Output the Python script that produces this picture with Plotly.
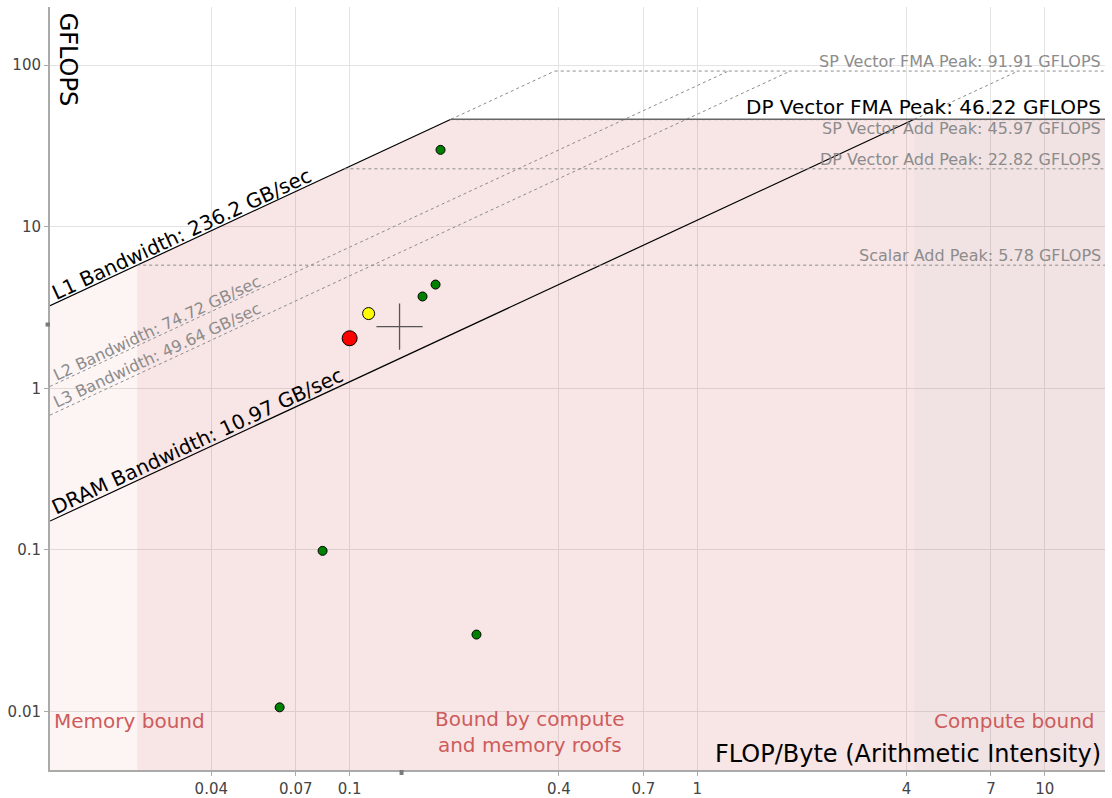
import plotly.graph_objects as go
import numpy as np

# ---- data ----
x_range_vals = [0.01374, 14.9]          # visible arithmetic-intensity span
y_range_vals = [0.00434, 229.0]          # visible GFLOPS span

bw_names = ["L1", "L2", "L3", "DRAM"]
bw_values = [236.2, 74.72, 49.64, 10.97]   # GB/sec

peak_names = ["SP Vector FMA", "DP Vector FMA", "SP Vector Add", "DP Vector Add", "Scalar Add"]
peak_values = [91.91, 46.22, 45.97, 22.82, 5.78]  # GFLOPS

green_x = [0.1826, 0.1767, 0.1621, 0.0836, 0.2317, 0.0629]
green_y = [29.9, 4.385, 3.70, 0.0986, 0.0299, 0.0106]
yellow_x = [0.1134]
yellow_y = [2.90]
red_x = [0.1000]
red_y = [2.04]
cross_x = [0.1392]
cross_y = [2.41]

x_ticks = [0.04, 0.07, 0.1, 0.4, 0.7, 1, 4, 7, 10]
x_tick_text = ["0.04", "0.07", "0.1", "0.4", "0.7", "1", "4", "7", "10"]
y_ticks = [0.01, 0.1, 1, 10, 100]
y_tick_text = ["0.01", "0.1", "1", "10", "100"]

# ---- derived roofs ----
xmin, xmax = x_range_vals
ymin, ymax = y_range_vals
L1, L2, L3, DRAM = bw_values
SPFMA, DPFMA, SPADD, DPADD, SCALAR = peak_values

FONT = "DejaVu Sans"
GRAY = "#8c8c8c"
DASH = "3px,3px"

fig = go.Figure()

# shaded regions under the roof
x_s = SCALAR / L1
x_r1 = DPFMA / L1
x_rd = DPFMA / DRAM
regions = [
    ([xmin, xmin, x_s, x_s], [ymin, L1 * xmin, L1 * x_s, ymin], "rgba(220,60,60,0.06)"),
    ([x_s, x_s, x_r1, x_rd, x_rd], [ymin, L1 * x_s, DPFMA, DPFMA, ymin], "rgba(200,50,50,0.125)"),
    ([x_rd, x_rd, xmax, xmax], [ymin, DPFMA, DPFMA, ymin], "rgba(160,60,70,0.15)"),
]
for xs, ys, col in regions:
    fig.add_trace(go.Scatter(x=xs, y=ys, fill="toself", fillcolor=col, mode="none",
                             hoverinfo="skip", showlegend=False))

def line(xs, ys, color, width=1, dash=None):
    fig.add_trace(go.Scatter(x=xs, y=ys, mode="lines",
                             line=dict(color=color, width=width, dash=dash),
                             hoverinfo="skip", showlegend=False))

# bandwidth roofs
line([xmin, DPFMA / L1], [L1 * xmin, DPFMA], "black", 1.2)
line([DPFMA / L1, SPFMA / L1], [DPFMA, SPFMA], GRAY, 1, DASH)
line([xmin, DPFMA / DRAM], [DRAM * xmin, DPFMA], "black", 1.2)
line([DPFMA / DRAM, SPFMA / DRAM], [DPFMA, SPFMA], GRAY, 1, DASH)
line([xmin, SPFMA / L2], [L2 * xmin, SPFMA], GRAY, 1, DASH)
line([xmin, SPFMA / L3], [L3 * xmin, SPFMA], GRAY, 1, DASH)

# compute roofs
line([SPFMA / L1, xmax], [SPFMA, SPFMA], GRAY, 1, DASH)
line([SPADD / L1, xmax], [SPADD, SPADD], GRAY, 1, DASH)
line([DPFMA / L1, xmax], [DPFMA, DPFMA], "#666666", 1.5)
line([DPADD / L1, xmax], [DPADD, DPADD], GRAY, 1, DASH)
line([SCALAR / L1, xmax], [SCALAR, SCALAR], GRAY, 1, DASH)

# points
fig.add_trace(go.Scatter(x=green_x, y=green_y, mode="markers",
                         marker=dict(color="green", size=9, line=dict(color="black", width=1)),
                         showlegend=False))
fig.add_trace(go.Scatter(x=yellow_x, y=yellow_y, mode="markers",
                         marker=dict(color="yellow", size=12, line=dict(color="black", width=1)),
                         showlegend=False))
fig.add_trace(go.Scatter(x=red_x, y=red_y, mode="markers",
                         marker=dict(color="red", size=15, line=dict(color="black", width=1)),
                         showlegend=False))
fig.add_trace(go.Scatter(x=cross_x, y=cross_y, mode="markers",
                         marker=dict(symbol="cross-thin", size=33, line=dict(color="#555555", width=1.3)),
                         showlegend=False))

# axis indicator marks at the cross position
fig.add_shape(type="rect", xref="paper", yref="y", x0=-0.0042, x1=0,
              ysizemode="pixel", yanchor=cross_y[0], y0=-4, y1=4,
              fillcolor="#7a7a7a", line=dict(width=0), layer="above")
fig.add_shape(type="rect", yref="paper", xref="x", y0=-0.0065, y1=0,
              xsizemode="pixel", xanchor=cross_x[0], x0=-4, x1=4,
              fillcolor="#7a7a7a", line=dict(width=0), layer="above")

L = np.log10
ann = []
def a(text, x, y, size, color, xref="x", yref="y", xanchor="center", yanchor="middle", angle=0,
      align="center", yshift=0):
    ann.append(dict(text=text, x=x, y=y, xref=xref, yref=yref, xanchor=xanchor, yanchor=yanchor,
                    textangle=angle, showarrow=False, align=align, yshift=yshift,
                    font=dict(family=FONT, size=size, color=color)))

# peak labels (right aligned)
a(f"SP Vector FMA Peak: {SPFMA} GFLOPS", 0.998, L(SPFMA), 16, GRAY, xref="paper", xanchor="right", yanchor="bottom", yshift=-2)
a(f"DP Vector FMA Peak: {DPFMA} GFLOPS", 0.998, L(DPFMA), 20, "black", xref="paper", xanchor="right", yanchor="bottom", yshift=-2)
a(f"SP Vector Add Peak: {SPADD} GFLOPS", 0.998, L(SPADD), 16, GRAY, xref="paper", xanchor="right", yanchor="top", yshift=3)
a(f"DP Vector Add Peak: {DPADD} GFLOPS", 0.998, L(DPADD), 16, GRAY, xref="paper", xanchor="right", yanchor="bottom", yshift=-2)
a(f"Scalar Add Peak: {SCALAR} GFLOPS", 0.998, L(SCALAR), 16, GRAY, xref="paper", xanchor="right", yanchor="bottom", yshift=-2)

# bandwidth labels (rotated along the roofs)
ang = -25
a(f"L1 Bandwidth: {L1} GB/sec", -1.4835, 0.9567, 20, "black", angle=ang)
a(f"DRAM Bandwidth: {DRAM} GB/sec", -1.4374, -0.325, 20, "black", angle=ang)
a(f"L2 Bandwidth: {L2} GB/sec", -1.5554, 0.3684, 16, GRAY, angle=ang)
a(f"L3 Bandwidth: {L3} GB/sec", -1.5554, 0.2012, 16, GRAY, angle=ang)

# region labels
RC = "#cd5c5c"
a("Memory bound", 0.002, -2.06, 20, RC, xref="paper", xanchor="left")
a("Bound by compute<br>and memory roofs", -0.482, -2.13, 20, RC)
a("Compute bound", 0.992, -2.06, 20, RC, xref="paper", xanchor="right")

# axis titles inside plot
a("FLOP/Byte (Arithmetic Intensity)", 0.998, 0.0, 24, "black", xref="paper", yref="paper", xanchor="right", yanchor="bottom")
a("GFLOPS", 0.002, 0.995, 24, "black", xref="paper", yref="paper", xanchor="left", yanchor="top", angle=90)

fig.update_layout(
    width=1112, height=798,
    margin=dict(l=50, r=7, t=7, b=28, autoexpand=False),
    paper_bgcolor="white", plot_bgcolor="white",
    font=dict(family=FONT, size=15, color="#444444"),
    annotations=ann,
    showlegend=False,
)
axis_common = dict(type="log", showgrid=True, gridcolor="#e3e3e3", gridwidth=1, zeroline=False,
                   showline=True, linecolor="#aaaaaa", linewidth=2, ticks="outside", ticklen=4,
                   tickcolor="#aaaaaa", automargin=False,
                   tickfont=dict(family=FONT, size=15, color="#444444"))
fig.update_xaxes(range=[L(xmin), L(xmax)], tickvals=x_ticks, ticktext=x_tick_text, **axis_common)
fig.update_yaxes(range=[L(ymin), L(ymax)], tickvals=y_ticks, ticktext=y_tick_text, **axis_common)

fig.write_html("out.html", config={"displayModeBar": False},
               post_script="document.body.style.margin='0';document.body.style.overflow='hidden';")
